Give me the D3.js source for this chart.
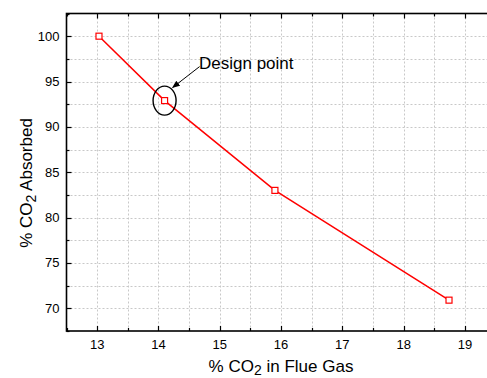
<!DOCTYPE html>
<html>
<head>
<meta charset="utf-8">
<script src="https://cdn.jsdelivr.net/npm/d3@7"></script>
<style>
  body { margin: 0; background: #fff; }
  svg { display: block; font-family: "Liberation Sans", Arial, sans-serif; }
</style>
</head>
<body>
<div id="chart"></div>
<script>
// data
const co2InGas = [13.03, 14.10, 15.90, 18.74];
const co2Absorbed = [100, 92.9, 83.0, 70.9];
const xTicks = [13, 14, 15, 16, 17, 18, 19];
const yTicks = [70, 75, 80, 85, 90, 95, 100];
const designIndex = 1;

const W = 487, H = 378;
const plotLeft = 66.5, plotTop = 13.5, plotBottom = 331;

const svg = d3.select("#chart").append("svg")
    .attr("width", W)
    .attr("height", H);

// x range goes past the right edge: the original is cropped there
const x = d3.scaleLinear().domain([12.5, 19.5]).range([plotLeft, plotLeft + 7 * 61.3]);
const y = d3.scaleLinear().domain([67.5, 102.5]).range([plotBottom, plotTop]);
const plotRight = x(19.5);

const xMinor = d3.range(12.5, 19.51, 0.5);
const yMinor = d3.range(67.5, 102.51, 2.5);

// dotted grid
const grid = svg.append("g").attr("stroke", "#c8c8c8").attr("stroke-width", 1)
    .attr("stroke-dasharray", "2,2");
grid.selectAll("line.gx")
    .data(xMinor.filter(d => d > 12.5 && d < 19.5))
    .enter().append("line")
        .attr("x1", d => Math.round(x(d)) + 0.5)
        .attr("x2", d => Math.round(x(d)) + 0.5)
        .attr("y1", plotTop).attr("y2", plotBottom);
grid.selectAll("line.gy")
    .data(yMinor.filter(d => d > 67.5 && d < 102.5))
    .enter().append("line")
        .attr("y1", d => Math.round(y(d)) + 0.5)
        .attr("y2", d => Math.round(y(d)) + 0.5)
        .attr("x1", plotLeft).attr("x2", plotRight);

// frame
svg.append("rect")
    .attr("x", plotLeft).attr("y", plotTop)
    .attr("width", plotRight - plotLeft).attr("height", plotBottom - plotTop)
    .attr("fill", "none").attr("stroke", "#000").attr("stroke-width", 1.6);

// inward ticks on all four sides
const isMajorX = d => Math.abs(d - Math.round(d)) < 1e-6;
const isMajorY = d => Math.abs(d / 5 - Math.round(d / 5)) < 1e-6;
const ticks = svg.append("g").attr("stroke", "#000").attr("stroke-width", 1.2);
xMinor.forEach(d =>
{
  const len = isMajorX(d) ? 5 : 3;
  const px = Math.round(x(d)) + 0.5;
  ticks.append("line").attr("x1", px).attr("x2", px).attr("y1", plotBottom).attr("y2", plotBottom - len);
  ticks.append("line").attr("x1", px).attr("x2", px).attr("y1", plotTop).attr("y2", plotTop + len);
});
yMinor.forEach(d =>
{
  const len = isMajorY(d) ? 5 : 3;
  const py = Math.round(y(d)) + 0.5;
  ticks.append("line").attr("y1", py).attr("y2", py).attr("x1", plotLeft).attr("x2", plotLeft + len);
});

// tick labels
svg.append("g").selectAll("text")
    .data(xTicks)
    .enter().append("text")
        .attr("x", d => x(d))
        .attr("y", plotBottom + 18)
        .attr("text-anchor", "middle")
        .attr("font-size", 13)
        .text(d => d);
svg.append("g").selectAll("text")
    .data(yTicks)
    .enter().append("text")
        .attr("x", plotLeft - 7)
        .attr("y", d => y(d) + 4.5)
        .attr("text-anchor", "end")
        .attr("font-size", 13)
        .text(d => d);

// axis titles
const xt = svg.append("text")
    .attr("x", 281).attr("y", 372)
    .attr("text-anchor", "middle")
    .attr("font-size", 17);
xt.append("tspan").text("% CO");
xt.append("tspan").attr("dy", 3).attr("font-size", 14).text("2");
xt.append("tspan").attr("dy", -3).text(" in Flue Gas");

const yt = svg.append("text")
    .attr("transform", "translate(32,183) rotate(-90)")
    .attr("text-anchor", "middle")
    .attr("font-size", 17);
yt.append("tspan").text("% CO");
yt.append("tspan").attr("dy", 4).attr("font-size", 14).text("2");
yt.append("tspan").attr("dy", -4).text(" Absorbed");

// the series
const pts = co2InGas.map((d, i) => [d, co2Absorbed[i]]);
svg.append("path")
    .datum(pts)
    .attr("fill", "none")
    .attr("stroke", "#ff0000")
    .attr("stroke-width", 1.5)
    .attr("d", d3.line().x(d => x(d[0])).y(d => y(d[1])));
svg.append("g").selectAll("rect")
    .data(pts)
    .enter().append("rect")
        .attr("x", d => x(d[0]) - 3)
        .attr("y", d => y(d[1]) - 3)
        .attr("width", 6).attr("height", 6)
        .attr("fill", "#fff")
        .attr("stroke", "#ff0000")
        .attr("stroke-width", 1.2);

// design point annotation
const dp = pts[designIndex];
const cx = x(dp[0]), cy = y(dp[1]);
svg.append("ellipse")
    .attr("cx", cx).attr("cy", cy)
    .attr("rx", 11.5).attr("ry", 14.5)
    .attr("fill", "none").attr("stroke", "#000").attr("stroke-width", 1.4);

svg.append("defs").append("marker")
    .attr("id", "arrow")
    .attr("viewBox", "0 0 10 10")
    .attr("refX", 9).attr("refY", 5)
    .attr("markerWidth", 8).attr("markerHeight", 8)
    .attr("markerUnits", "userSpaceOnUse")
    .attr("orient", "auto")
    .append("path")
        .attr("d", "M0,1 L10,5 L0,9 z")
        .attr("fill", "#000");
svg.append("line")
    .attr("x1", cx + 35).attr("y1", cy - 34)
    .attr("x2", cx + 8).attr("y2", cy - 13)
    .attr("stroke", "#000").attr("stroke-width", 1)
    .attr("marker-end", "url(#arrow)");

svg.append("text")
    .attr("x", 199).attr("y", 69)
    .attr("font-size", 17)
    .text("Design point");
</script>
</body>
</html>
